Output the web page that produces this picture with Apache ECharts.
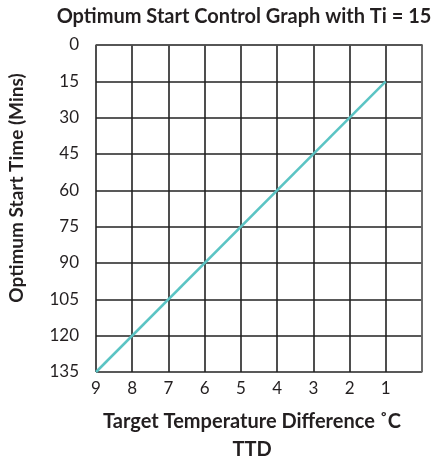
<!DOCTYPE html>
<html><head><meta charset="utf-8">
<script src="https://cdn.jsdelivr.net/npm/echarts@6/dist/echarts.min.js"></script>
<style>html,body{margin:0;padding:0;background:#fff}#c{width:435px;height:462px}</style>
</head><body><div id="c"></div>
<script>
var ttd = [9, 1];
var startTime = [135, 15];
var xTicks = [9, 8, 7, 6, 5, 4, 3, 2, 1];
var yTicks = [0, 15, 30, 45, 60, 75, 90, 105, 120, 135];
var titleText = 'Optimum Start Control Graph with Ti = 15';
var xName = 'Target Temperature Difference ˚C';
var xName2 = 'TTD';
var yName = 'Optimum Start Time (Mins)';

var font = 'Lato';
var chart = echarts.init(document.getElementById('c'));
chart.setOption({
  animation: false,
  grid: {left: 96, right: 13, top: 45, bottom: 90, containLabel: false},
  xAxis: {
    type: 'value', min: 0, max: 9, interval: 1, inverse: true,
    axisLine: {show: true, lineStyle: {color: '#555', width: 1.5}},
    axisTick: {show: false},
    splitLine: {show: true, lineStyle: {color: '#222', width: 1.6}},
    axisLabel: {
      fontFamily: font, fontSize: 17, color: '#231f20', margin: 8,
      formatter: function (v) { return xTicks.indexOf(v) >= 0 ? String(v) : ''; }
    }
  },
  yAxis: {
    type: 'value', min: 0, max: 135, interval: 15, inverse: true,
    axisLine: {show: true, lineStyle: {color: '#777', width: 1.5}},
    axisTick: {show: false},
    splitLine: {show: true, lineStyle: {color: '#222', width: 1.6}},
    axisLabel: {
      fontFamily: font, fontSize: 17, color: '#231f20', margin: 17,
      formatter: function (v) { return yTicks.indexOf(v) >= 0 ? String(v) : ''; }
    }
  },
  graphic: [
    {type: 'text', x: 244, y: 17, style: {text: titleText, fontFamily: font, fontWeight: 'bold', fontSize: 20, fill: '#231f20', align: 'center', verticalAlign: 'middle'}},
    {type: 'text', x: 252, y: 422, style: {text: xName, fontFamily: font, fontWeight: 'bold', fontSize: 20, fill: '#231f20', align: 'center', verticalAlign: 'middle'}},
    {type: 'text', x: 252, y: 450, style: {text: xName2, fontFamily: font, fontWeight: 'bold', fontSize: 20, fill: '#231f20', align: 'center', verticalAlign: 'middle'}},
    {type: 'text', x: 17, y: 188, rotation: Math.PI / 2, style: {text: yName, fontFamily: font, fontWeight: 'bold', fontSize: 19, fill: '#231f20', align: 'center', verticalAlign: 'middle'}}
  ],
  series: [{
    type: 'line',
    data: ttd.map(function (t, i) { return [t, startTime[i]]; }),
    symbol: 'none',
    lineStyle: {color: '#5bc4c4', width: 2.5},
    z: 5
  }]
});
</script></body></html>
